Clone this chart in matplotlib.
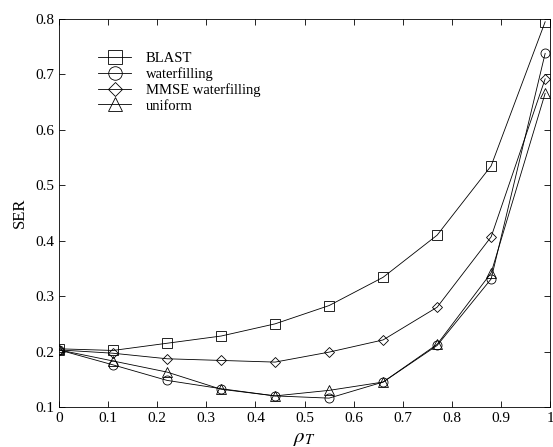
import matplotlib
matplotlib.use("Agg")
import matplotlib.pyplot as plt

plt.rcParams["font.family"] = ["Liberation Serif", "DejaVu Serif"]
plt.rcParams["mathtext.fontset"] = "stix"

# SER vs rho_T for each power allocation
rho = [0.0, 0.11, 0.22, 0.33, 0.44, 0.55, 0.66, 0.77, 0.88, 0.99]
ser_blast = [0.205, 0.202, 0.215, 0.228, 0.250, 0.283, 0.334, 0.410, 0.535, 0.795]
ser_water = [0.203, 0.176, 0.148, 0.133, 0.120, 0.116, 0.145, 0.211, 0.331, 0.738]
ser_mmse = [0.203, 0.197, 0.187, 0.184, 0.181, 0.199, 0.221, 0.280, 0.407, 0.692]
ser_unif = [0.203, 0.183, 0.163, 0.132, 0.120, 0.130, 0.145, 0.213, 0.342, 0.666]

xticks = [0, 0.1, 0.2, 0.3, 0.4, 0.5, 0.6, 0.7, 0.8, 0.9, 1]
xtick_labels = ["0", "0.1", "0.2", "0.3", "0.4", "0.5", "0.6", "0.7", "0.8", "0.9", "1"]
yticks = [0.1, 0.2, 0.3, 0.4, 0.5, 0.6, 0.7, 0.8]

series = [
    ("BLAST", ser_blast, "s"),
    ("waterfilling", ser_water, "o"),
    ("MMSE waterfilling", ser_mmse, "D"),
    ("uniform", ser_unif, "^"),
]

fig = plt.figure(figsize=(5.53, 4.47), dpi=100)
ax = fig.add_axes([0.1067, 0.0895, 0.888, 0.868])

for name, vals, mk in series:
    ms = 5 if mk == "D" else 6.5
    ax.plot(rho, vals, color="black", lw=0.6, marker=mk, ms=ms,
            mfc="none", mec="black", mew=0.6, label=name)

ax.set_xlim(0, 1)
ax.set_ylim(0.1, 0.8)
ax.set_xticks(xticks)
ax.set_xticklabels(xtick_labels)
ax.set_yticks(yticks)
ax.set_yticklabels([f"{v:.1f}" for v in yticks])
ax.tick_params(direction="in", top=True, right=True, labelsize=11, length=4, width=0.6)
for s in ax.spines.values():
    s.set_linewidth(0.6)

ax.set_xlabel(r"$\rho_T$", fontsize=15, labelpad=3)
ax.set_ylabel("SER", fontsize=12, labelpad=5)

ax.legend(loc="upper left", bbox_to_anchor=(0.079, 0.915), frameon=False,
          fontsize=10.5, markerscale=1.5, handlelength=2.3, handletextpad=1.0,
          labelspacing=0.15, borderaxespad=0, borderpad=0)

fig.savefig("out.png", dpi=100)
